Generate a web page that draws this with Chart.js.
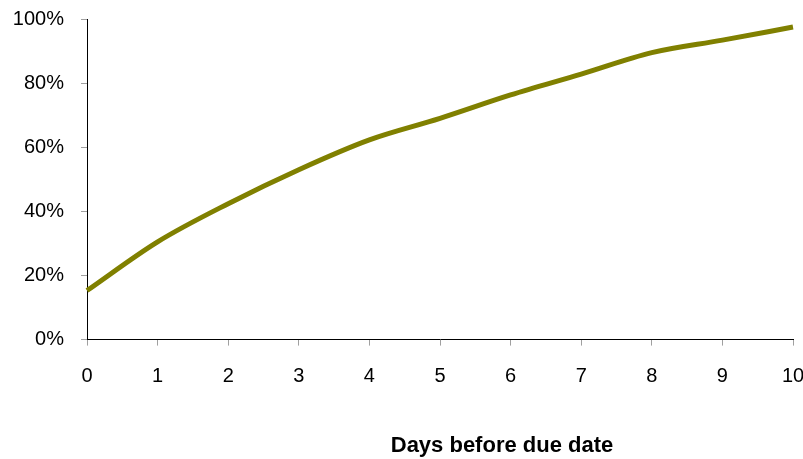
<!DOCTYPE html>
<html>
<head>
<meta charset="utf-8">
<script src="https://cdn.jsdelivr.net/npm/chart.js@4/dist/chart.umd.min.js"></script>
<style>
  html, body { margin: 0; padding: 0; background: #fff; overflow: hidden; }
  #wrap { position: relative; width: 992px; height: 459px; }
</style>
</head>
<body>
<div id="wrap"><canvas id="chart"></canvas></div>
<script>
// Share of payments received, by days before the due date
const days = ['0', '1', '2', '3', '4', '5', '6', '7', '8', '9', '10'];
const receivedPct = [15.3, 30.5, 42.4, 53.0, 62.3, 69.0, 76.3, 82.8, 89.5, 93.4, 97.5];
const yTicks = [0, 20, 40, 60, 80, 100];

const FONT = "'Liberation Sans', Arial, Helvetica, sans-serif";

new Chart(document.getElementById('chart'), {
  type: 'line',
  data: {
    labels: days,
    datasets: [{
      data: receivedPct,
      borderColor: '#808000',
      borderWidth: 5,
      pointRadius: 0,
      tension: 0.4,
      cubicInterpolationMode: 'monotone',
      fill: false
    }]
  },
  options: {
    responsive: true,
    maintainAspectRatio: false,
    animation: false,
    layout: { padding: { left: 12, top: 19, right: 0, bottom: 0 } },
    plugins: {
      legend: { display: false },
      tooltip: { enabled: false },
      title: {
        display: true,
        position: 'bottom',
        text: 'Days before due date',
        color: '#000',
        font: { family: FONT, size: 22, weight: 'bold' },
        padding: { top: 25, bottom: 0 }
      }
    },
    scales: {
      x: {
        type: 'category',
        offset: false,
        grid: { drawOnChartArea: false, drawTicks: true, tickLength: 6, color: '#a0a0a0' },
        border: { display: true, color: '#000', width: 1 },
        ticks: { color: '#000', font: { family: FONT, size: 20 }, padding: 19, maxRotation: 0, autoSkip: false }
      },
      y: {
        min: 0,
        max: 100,
        afterBuildTicks(scale) { scale.ticks = yTicks.map(v => ({ value: v })); },
        afterFit(scale) {
          scale.width = 75;
          scale.paddingTop = 0;
          scale.paddingBottom = 0;
        },
        grid: { drawOnChartArea: false, drawTicks: true, tickLength: 6, color: '#a0a0a0' },
        border: { display: true, color: '#000', width: 1 },
        ticks: { color: '#000', font: { family: FONT, size: 20 }, padding: 17, callback: v => v + '%' }
      },
      // blank strip on the right of the plot area
      side: {
        position: 'right',
        display: true,
        grid: { display: false, drawTicks: false },
        border: { display: false },
        ticks: { display: false },
        afterFit(scale) { scale.width = 199; }
      }
    }
  }
});
</script>
</body>
</html>
